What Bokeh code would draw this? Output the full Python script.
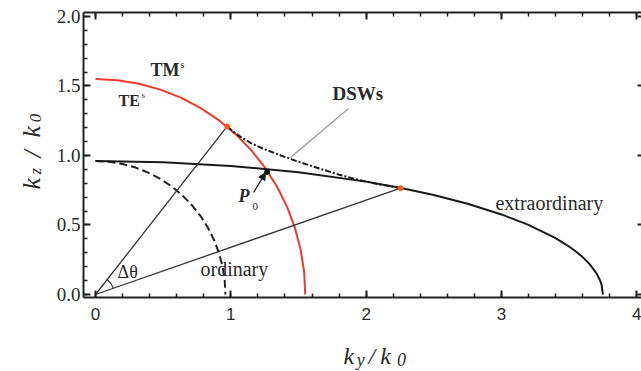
import math
from bokeh.plotting import figure
from bokeh.models import (Range1d, LinearAxis, SingleIntervalTicker, Label, Arrow,
                          NormalHead, PrintfTickFormatter)
from bokeh.embed import file_html
from bokeh.resources import INLINE

# ---- data ----
# TM^s / TE^s circle (red)
red_ky = [0.0, 0.162, 0.322, 0.479, 0.630, 0.775, 0.911, 1.037, 1.152, 1.254, 1.342, 1.416, 1.474, 1.516, 1.542, 1.55]
red_kz = [1.55, 1.542, 1.516, 1.474, 1.416, 1.342, 1.254, 1.152, 1.037, 0.911, 0.775, 0.630, 0.479, 0.322, 0.162, 0.0]
# ordinary (dashed)
ord_ky = [0.0, 0.100, 0.200, 0.297, 0.390, 0.480, 0.564, 0.642, 0.713, 0.777, 0.831, 0.877, 0.913, 0.939, 0.955, 0.96]
ord_kz = [0.96, 0.955, 0.939, 0.913, 0.877, 0.831, 0.777, 0.713, 0.642, 0.564, 0.480, 0.390, 0.297, 0.200, 0.100, 0.0]
# extraordinary (solid)
ext_ky = [0.0, 0.5, 1.0, 1.5, 2.0, 2.25, 2.5, 2.75, 3.0, 3.2, 3.4, 3.5, 3.55, 3.6, 3.65, 3.7, 3.73, 3.74, 3.75]
ext_kz = [0.96, 0.951, 0.925, 0.880, 0.812, 0.768, 0.716, 0.653, 0.576, 0.501, 0.405, 0.345, 0.309, 0.269, 0.220, 0.156, 0.099, 0.070, 0.0]
# DSWs (dash-dot)
dsw_ky = [0.975, 1.02, 1.08, 1.15, 1.25, 1.37, 1.50, 1.65, 1.80, 1.95, 2.10, 2.25]
dsw_kz = [1.208, 1.170, 1.128, 1.088, 1.045, 1.000, 0.955, 0.908, 0.862, 0.823, 0.792, 0.767]
# rays from the origin to the DSW end points
ray_ky = [0.973, 2.254]
ray_kz = [1.209, 0.765]
# intersection point P0
p0_ky = [1.268]
p0_kz = [0.882]
# pointer for the DSWs label
ptr_ky = [1.87, 1.441]
ptr_kz = [1.338, 0.986]
# arrow for P0
arr_ky = [1.168, 1.256]
arr_kz = [0.734, 0.876]
arc_r = 0.14

# axes
x_lo, x_hi = -0.0887, 4.035
y_lo, y_hi = -0.0216, 2.029
x_ticks_interval = 1
y_ticks_interval = 0.5

SERIF = "Liberation Serif"
TXT = "#2a2a2a"
AX = "#222222"

p = figure(width=641, height=371, output_backend="svg", toolbar_location=None,
           x_range=Range1d(-0.702, 4.035), y_range=Range1d(-0.554, 2.115),
           x_axis_location=None, y_axis_location=None,
           min_border_left=0, min_border_right=0, min_border_top=0, min_border_bottom=0)
p.outline_line_color = None
p.grid.visible = False
p.background_fill_color = "white"
p.border_fill_color = "white"


def make_axis(interval, fixed, bounds, labels=True, minor=True, tick_in=7):
    ax = LinearAxis(ticker=SingleIntervalTicker(interval=interval, num_minor_ticks=5),
                    fixed_location=fixed, bounds=bounds)
    ax.axis_line_width = 2
    ax.axis_line_color = AX
    ax.major_tick_in = tick_in
    ax.major_tick_out = 0
    ax.major_tick_line_width = 2
    ax.major_tick_line_color = AX
    if minor:
        ax.minor_tick_in = 4
        ax.minor_tick_out = 0
        ax.minor_tick_line_width = 1.5
        ax.minor_tick_line_color = AX
    else:
        ax.minor_tick_line_color = None
    if not labels:
        ax.major_label_text_font_size = "0px"
        ax.major_label_standoff = 0
        ax.major_label_text_color = None
    return ax


xa = make_axis(x_ticks_interval, y_lo, (x_lo, x_hi))
xa.major_label_text_font = "Liberation Sans"
xa.major_label_text_font_size = "17px"
xa.major_label_text_color = TXT
xa.major_label_standoff = 11
p.add_layout(xa, "below")

ya = make_axis(y_ticks_interval, x_lo, (y_lo, y_hi))
ya.formatter = PrintfTickFormatter(format="%.1f")
ya.major_label_text_font = SERIF
ya.major_label_text_font_size = "19px"
ya.major_label_text_color = TXT
ya.major_label_standoff = 3
p.add_layout(ya, "left")

top = make_axis(x_ticks_interval, y_hi, (x_lo, x_hi), labels=False)
p.add_layout(top, "above")

right = make_axis(y_ticks_interval, x_hi, (y_lo, y_hi), labels=False, minor=False, tick_in=4)
right.axis_line_color = None
p.add_layout(right, "right")

# curves
p.line(red_ky, red_kz, line_color="#ee3b2e", line_width=2)
p.line(ord_ky, ord_kz, line_color="#222222", line_width=2, line_dash="8 4")
p.line(ext_ky, ext_kz, line_color="#1a1a1a", line_width=2)
p.line(dsw_ky, dsw_kz, line_color="#1a1a1a", line_width=2, line_dash="6 2 2 2")

for k, z in zip(ray_ky, ray_kz):
    p.line([0, k], [0, z], line_color="#333333", line_width=1.3)

a1 = math.atan2(ray_kz[1], ray_ky[1])
a2 = math.atan2(ray_kz[0], ray_ky[0])
p.arc(x=[0], y=[0], radius=arc_r, start_angle=a1, end_angle=a2, line_color="#333333", line_width=1.2)

p.line(ptr_ky, ptr_kz, line_color="#9a9a9a", line_width=1.3)

p.add_layout(Arrow(end=NormalHead(size=7, fill_color="#1a1a1a", line_color="#1a1a1a"),
                   x_start=arr_ky[0], y_start=arr_kz[0], x_end=arr_ky[1], y_end=arr_kz[1],
                   line_color="#1a1a1a", line_width=1.3))

p.scatter(ray_ky, ray_kz, size=5, color="#ff5a1f")
p.scatter(p0_ky, p0_kz, size=5, color="#111111")


def lab(x, y, text, size, style="normal", baseline="middle", angle=0.0, color=TXT):
    p.add_layout(Label(x=x, y=y, text=text, text_font=SERIF, text_font_size=size,
                       text_font_style=style, text_color=color, text_baseline=baseline,
                       text_align="left", angle=angle))


# annotations
lab(0.406, 1.612, "TM", "18px", "bold")
lab(0.628, 1.655, "s", "10px")
lab(0.170, 1.396, "TE", "16px", "bold")
lab(0.34, 1.432, "s", "9px")
lab(1.752, 1.446, "DSWs", "19px", "bold")
lab(0.776, 0.180, "ordinary", "20px")
lab(2.956, 0.655, "extraordinary", "20px")
lab(0.163, 0.160, "Δθ", "18px")
lab(1.057, 0.712, "P", "18px", "bold italic")
lab(1.160, 0.633, "0", "11px")

# x-axis title k_y / k_0
lab(1.833, -0.446, "k", "24px", "italic", "alphabetic")
lab(1.930, -0.468, "y", "18px", "italic", "alphabetic")
lab(2.018, -0.446, "/", "24px", "italic", "alphabetic")
lab(2.105, -0.446, "k", "24px", "italic", "alphabetic")
lab(2.228, -0.470, "0", "18px", "italic", "alphabetic")

# y-axis title k_z / k_0 (rotated)
r = math.pi / 2
lab(-0.473, 0.755, "k", "26px", "italic", "alphabetic", r)
lab(-0.443, 0.863, "z", "17px", "italic", "alphabetic", r)
lab(-0.466, 0.986, "/", "26px", "italic", "alphabetic", r)
lab(-0.473, 1.129, "k", "26px", "italic", "alphabetic", r)
lab(-0.443, 1.240, "0", "17px", "italic", "alphabetic", r)

open("out.html", "w").write(file_html(p, INLINE))
